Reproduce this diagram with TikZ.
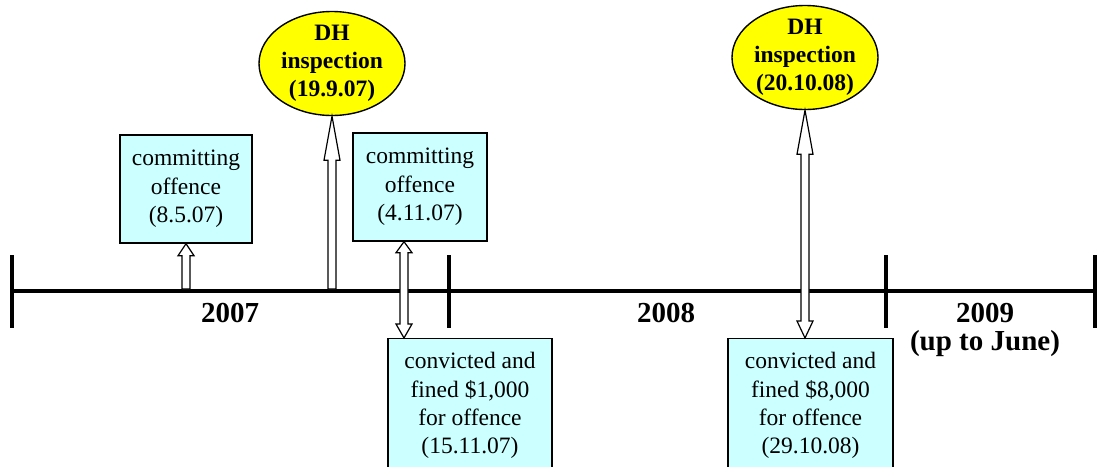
\documentclass[tikz,border=0pt]{standalone}
\usepackage{fontspec}
\setmainfont{Liberation Serif}
\usetikzlibrary{shapes.geometric,calc}

\definecolor{boxcyan}{HTML}{CCFFFF}
\definecolor{tagyellow}{HTML}{FFFF00}

\tikzset{
  eventbox/.style={draw=black, line width=1.4pt, fill=boxcyan, align=center,
    inner sep=0pt, font=\fontsize{23.5}{28.3}\selectfont},
  inspect/.style={ellipse, draw=black, line width=1.4pt, fill=tagyellow, align=center,
    inner xsep=0pt, inner ysep=-4pt, minimum width=146pt, minimum height=104pt,
    font=\bfseries\fontsize{23.5}{28.3}\selectfont},
  axis/.style={line width=4pt},
  yearlabel/.style={font=\bfseries\fontsize{29}{28}\selectfont, anchor=base},
  hollow/.style={draw=black, line width=1.2pt, fill=white, line join=miter},
}

% single-headed hollow arrow pointing up: x of #1, from y of #2 up to y of #3, head length #4
\newcommand\hollowup[4]{%
  \draw[hollow] let \p1=(#1), \p2=(#2), \p3=(#3) in
    (\x1-4pt,\y2) -- (\x1-4pt,\y3-#4) -- (\x1-8pt,\y3-#4) -- (\x1,\y3)
    -- (\x1+8pt,\y3-#4) -- (\x1+4pt,\y3-#4) -- (\x1+4pt,\y2) -- cycle;}

% double-headed hollow arrow: x of #1, between y of #2 (top) and y of #3 (bottom),
% head lengths #4 (top) and #5 (bottom)
\newcommand\hollowboth[5]{%
  \draw[hollow] let \p1=(#1), \p2=(#2), \p3=(#3) in
    (\x1,\y2) -- (\x1+8pt,\y2-#4) -- (\x1+4pt,\y2-#4) -- (\x1+4pt,\y3+#5)
    -- (\x1+8pt,\y3+#5) -- (\x1,\y3) -- (\x1-8pt,\y3+#5) -- (\x1-4pt,\y3+#5)
    -- (\x1-4pt,\y2-#4) -- (\x1-8pt,\y2-#4) -- cycle;}

\begin{document}
\begin{tikzpicture}[x=1pt, y=-1pt]
  \useasboundingbox (0,0) rectangle (1099,466);
  \clip (0,0) rectangle (1099,466);

  % time axis with year separators
  \foreach \x/\n in {12/t0, 449/t1, 886/t2, 1095/t3}
    \coordinate (\n) at (\x,291);
  \draw[axis] (t0) -- (t3);
  \foreach \n in {t0, t1, t2, t3}
    \draw[axis] ($(\n)+(0,-36)$) -- ($(\n)+(0,37)$);

  % year labels
  \node[yearlabel] (y7) at (230,322) {2007};
  \node[yearlabel] (y8) at (666,322) {2008};
  \node[yearlabel] (y9) at (985,322) {2009};
  \node[yearlabel] (y9n) at (985,350) {(up to June)};

  % events
  \node[eventbox, minimum width=132pt, minimum height=108pt] (b1) at (186,189)
    {committing\\offence\\(8.5.07)};
  \node[eventbox, minimum width=134pt, minimum height=108pt] (b2) at (420,187)
    {committing\\offence\\(4.11.07)};
  \node[eventbox, minimum width=164pt, minimum height=134pt, anchor=north] (b3) at (470,338)
    {convicted and\\fined \$1,000\\for offence\\(15.11.07)};
  \node[eventbox, minimum width=165pt, minimum height=134pt, anchor=north] (b4) at (810.5,338)
    {convicted and\\fined \$8,000\\for offence\\(29.10.08)};

  % inspections
  \node[inspect] (e1) at (332,63.5) {DH\\inspection\\(19.9.07)};
  \node[inspect] (e2) at (805,57.5) {DH\\inspection\\(20.10.08)};

  % arrow feet on the axis
  \coordinate (a1) at (186,289);
  \coordinate (a2) at (332,289);
  \coordinate (a3) at (404,291);

  \hollowup{b1.south}{a1}{b1.south}{12pt}
  \hollowup{e1.south}{a2}{e1.south}{44pt}
  \hollowboth{a3}{b2.south}{b3.north}{11pt}{14pt}
  \hollowboth{e2.south}{e2.south}{b4.north}{44pt}{17pt}
\end{tikzpicture}
\end{document}
